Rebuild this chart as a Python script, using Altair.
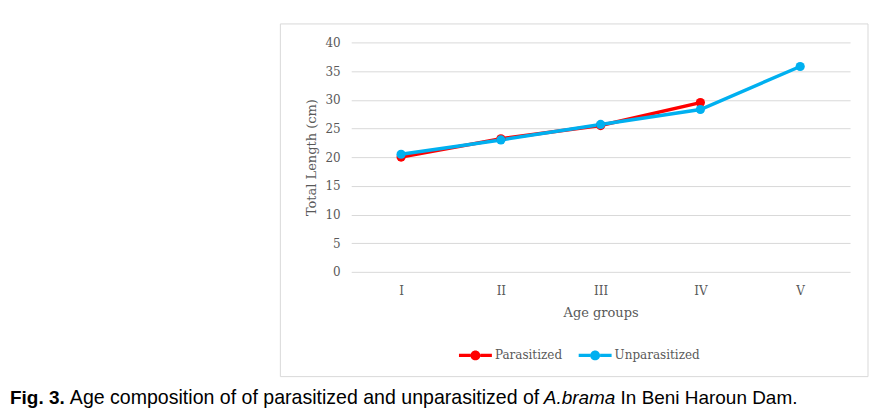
import altair as alt
import pandas as pd

ages = ["I", "II", "III", "IV", "V"]
parasitized = [20.0, 23.2, 25.5, 29.5]
unparasitized = [20.5, 23.0, 25.7, 28.3, 35.8]
series = ["Parasitized", "Unparasitized"]
colors = ["#FF0000", "#00B0F0"]
y_ticks = [0, 5, 10, 15, 20, 25, 30, 35, 40]

cap_bold = "Fig. 3."
cap_a = "Age composition of of parasitized and unparasitized of"
cap_it = "A.brama"
cap_b = "In Beni Haroun Dam."

rows = []
for a, v in zip(ages, parasitized):
    rows.append({"age": a, "len": v, "group": series[0]})
for a, v in zip(ages, unparasitized):
    rows.append({"age": a, "len": v, "group": series[1]})
df = pd.DataFrame(rows)

FONT = "DejaVu Serif"
GREY = "#595959"

x_enc = alt.X("age:O", sort=ages,
              scale=alt.Scale(type="point", padding=0.5, domain=ages),
              axis=alt.Axis(title="Age groups", labelAngle=0, grid=False, domain=False,
                            ticks=False, tickSize=0, labelPadding=19, labelBaseline="middle",
                            titleBaseline="middle", titleY=41))
y_enc = alt.Y("len:Q", scale=alt.Scale(domain=[0, 40], nice=False),
              axis=alt.Axis(title="Total Length (cm)", values=y_ticks, domain=False,
                            ticks=False, tickSize=0, labelPadding=11, gridColor="#d9d9d9",
                            titleBaseline="bottom", titleX=-33, titleY=115))
color_scale = alt.Scale(domain=series, range=colors)

sym = ("M-1,-0.1H-0.3V0.1H-1Z M0.3,-0.1H1V0.1H0.3Z "
       "M-0.3,0A0.3,0.3,0,1,1,0.3,0A0.3,0.3,0,1,1,-0.3,0Z")

border = alt.Chart(pd.DataFrame({"k": [0]})).mark_rect(
    fill=None, stroke="#d9d9d9", strokeWidth=1
).encode(x=alt.value(-71), x2=alt.value(518), y=alt.value(-18.5), y2=alt.value(335))

lines = alt.Chart(df).mark_line(strokeWidth=3.5).encode(
    x=x_enc, y=y_enc,
    color=alt.Color("group:N", scale=color_scale, legend=None),
)

points = alt.Chart(df).mark_point(filled=True, size=85, opacity=1).encode(
    x=x_enc, y=y_enc,
    color=alt.Color("group:N", scale=color_scale,
                    legend=alt.Legend(title=None, orient="none", direction="horizontal",
                                      legendX=108, legendY=297, symbolType=sym,
                                      symbolSize=1089, symbolStrokeWidth=0,
                                      symbolOpacity=1,
                                      labelFont=FONT, labelFontSize=12, labelColor=GREY,
                                      labelOffset=3, columnPadding=16, padding=0)),
)

def cap(txt, x, size=19, style="normal", weight="normal"):
    return alt.Chart(pd.DataFrame({"t": [txt]})).mark_text(
        font="Liberation Sans", fontSize=size, fontStyle=style, fontWeight=weight,
        align="left", baseline="alphabetic", color="#000000"
    ).encode(text="t:N", x=alt.value(x), y=alt.value(362.7))

caption = (cap(cap_bold, -342, weight="bold") + cap(cap_a, -282, size=19.6)
           + cap(cap_it, 193, style="italic") + cap(cap_b, 270))

chart = alt.layer(border, lines, points, caption).resolve_legend(
    color="independent"
).properties(
    width=500, height=230,
    autosize=alt.AutoSizeParams(type="none"),
    padding={"left": 344, "top": 34, "right": 25, "bottom": 140},
).configure_view(stroke=None).configure_axis(
    labelFont=FONT, labelFontSize=12, labelColor=GREY,
    titleFont=FONT, titleFontSize=13, titleColor=GREY, titleFontWeight="normal",
)

chart.save("out.html", embed_options={"renderer": "svg", "actions": False})
